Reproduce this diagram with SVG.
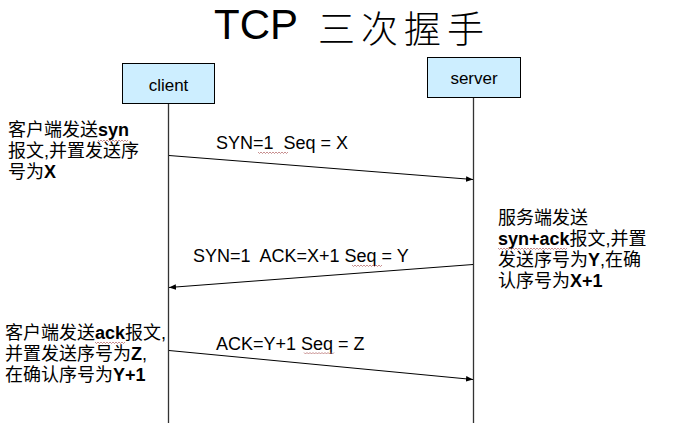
<svg xmlns="http://www.w3.org/2000/svg" width="680" height="423" viewBox="0 0 680 423">
<style>
.bg{fill:#ffffff}
.box{fill:#cdeeff;stroke:#000;stroke-width:1}
.life{stroke:#333;stroke-width:1.3;fill:none}
.msg{stroke:#000;stroke-width:1;fill:none}
.lbl{font-family:"Liberation Sans",Arial,sans-serif;font-size:18px;fill:#000}
.node{font-family:"Liberation Sans",Arial,sans-serif;font-size:17px;fill:#000;text-anchor:middle}
.note{font-family:"Liberation Sans","Noto Sans CJK SC",sans-serif;font-size:18px;fill:#000}
.b{font-weight:bold}
.title{font-family:"Liberation Sans",Arial,sans-serif;font-size:42px;fill:#000}
.tcjk{font-family:"Noto Sans CJK SC",sans-serif;font-size:37px;font-weight:300;letter-spacing:6px;fill:#000}
.wavy{stroke:#b06060;stroke-width:0.7;fill:none}
</style>
<defs>
<marker id="ah" viewBox="0 0 10 10" refX="10" refY="5" markerWidth="7" markerHeight="7" orient="auto" markerUnits="userSpaceOnUse">
<path d="M0,1 L10,5 L0,9 z" fill="#000"/>
</marker>
</defs>
<rect class="bg" x="0" y="0" width="680" height="423"/>
<g id="title">
<text class="title" x="214" y="39">TCP</text>
<text class="tcjk" x="318" y="43">三次握手</text>
</g>

<g id="client">
<line class="life" x1="168.5" y1="103" x2="168.5" y2="423"/>
<rect class="box" x="122.5" y="63.5" width="92" height="40"/>
<text class="node" x="168.5" y="91">client</text>
</g>
<g id="server">
<line class="life" x1="473.5" y1="98" x2="473.5" y2="423"/>
<rect class="box" x="427.5" y="57.5" width="93" height="40"/>
<text class="node" x="474" y="84">server</text>
</g>

<g id="connectors">
<line class="msg" x1="169" y1="155.5" x2="473" y2="179.5" marker-end="url(#ah)"/>
<line class="msg" x1="473" y1="264.5" x2="169" y2="287.5" marker-end="url(#ah)"/>
<line class="msg" x1="169" y1="350.5" x2="473" y2="379.5" marker-end="url(#ah)"/>
</g>

<g id="labels">
<text class="lbl" x="216" y="149" xml:space="preserve">SYN=1  Seq = X</text>
<text class="lbl" x="193" y="262" xml:space="preserve">SYN=1  ACK=X+1 Seq = Y</text>
<text class="lbl" x="216" y="349.5">ACK=Y+1 Seq = Z</text>
</g>

<g id="note-client-1">
<text class="note" x="8" y="136">客户端发送<tspan class="b">syn</tspan></text>
<text class="note" x="8" y="157">报文,并置发送序</text>
<text class="note" x="8" y="178">号为<tspan class="b">X</tspan></text>
</g>
<g id="note-server">
<text class="note" x="498" y="224">服务端发送</text>
<text class="note" x="498" y="245"><tspan class="b">syn+ack</tspan>报文,并置</text>
<text class="note" x="498" y="266">发送序号为<tspan class="b">Y</tspan>,在确</text>
<text class="note" x="498" y="287">认序号为<tspan class="b">X+1</tspan></text>
</g>
<g id="note-client-2">
<text class="note" x="5" y="339">客户端发送<tspan class="b">ack</tspan>报文,</text>
<text class="note" x="5" y="360">并置发送序号为<tspan class="b">Z</tspan>,</text>
<text class="note" x="5" y="381">在确认序号为<tspan class="b">Y+1</tspan></text>
</g>

<g id="spell-underlines">
<path class="wavy" d="M98,140 l1.5,1.5 l1.5,-1.5 l1.5,1.5 l1.5,-1.5 l1.5,1.5 l1.5,-1.5 l1.5,1.5 l1.5,-1.5 l1.5,1.5 l1.5,-1.5 l1.5,1.5 l1.5,-1.5 l1.5,1.5 l1.5,-1.5 l1.5,1.5 l1.5,-1.5 l1.5,1.5 l1.5,-1.5 l1.5,1.5 l1.5,-1.5"/>
<path class="wavy" d="M258,152 l1.5,1.5 l1.5,-1.5 l1.5,1.5 l1.5,-1.5 l1.5,1.5 l1.5,-1.5 l1.5,1.5 l1.5,-1.5 l1.5,1.5 l1.5,-1.5 l1.5,1.5 l1.5,-1.5 l1.5,1.5 l1.5,-1.5 l1.5,1.5 l1.5,-1.5 l1.5,1.5 l1.5,-1.5 l1.5,1.5 l1.5,-1.5"/>
<path class="wavy" d="M352,265 l1.5,1.5 l1.5,-1.5 l1.5,1.5 l1.5,-1.5 l1.5,1.5 l1.5,-1.5 l1.5,1.5 l1.5,-1.5 l1.5,1.5 l1.5,-1.5 l1.5,1.5 l1.5,-1.5 l1.5,1.5 l1.5,-1.5 l1.5,1.5 l1.5,-1.5 l1.5,1.5 l1.5,-1.5 l1.5,1.5 l1.5,-1.5"/>
<path class="wavy" d="M304,352.5 l1.5,1.5 l1.5,-1.5 l1.5,1.5 l1.5,-1.5 l1.5,1.5 l1.5,-1.5 l1.5,1.5 l1.5,-1.5 l1.5,1.5 l1.5,-1.5 l1.5,1.5 l1.5,-1.5 l1.5,1.5 l1.5,-1.5 l1.5,1.5 l1.5,-1.5 l1.5,1.5 l1.5,-1.5 l1.5,1.5 l1.5,-1.5"/>
<path class="wavy" d="M498,248 l1.5,1.5 l1.5,-1.5 l1.5,1.5 l1.5,-1.5 l1.5,1.5 l1.5,-1.5 l1.5,1.5 l1.5,-1.5 l1.5,1.5 l1.5,-1.5 l1.5,1.5 l1.5,-1.5 l1.5,1.5 l1.5,-1.5 l1.5,1.5 l1.5,-1.5 l1.5,1.5 l1.5,-1.5 l1.5,1.5 l1.5,-1.5 l1.5,1.5 l1.5,-1.5 l1.5,1.5 l1.5,-1.5 l1.5,1.5 l1.5,-1.5 l1.5,1.5 l1.5,-1.5 l1.5,1.5 l1.5,-1.5 l1.5,1.5 l1.5,-1.5 l1.5,1.5 l1.5,-1.5 l1.5,1.5 l1.5,-1.5 l1.5,1.5 l1.5,-1.5 l1.5,1.5 l1.5,-1.5 l1.5,1.5 l1.5,-1.5 l1.5,1.5 l1.5,-1.5 l1.5,1.5 l1.5,-1.5"/>
<path class="wavy" d="M95,342 l1.5,1.5 l1.5,-1.5 l1.5,1.5 l1.5,-1.5 l1.5,1.5 l1.5,-1.5 l1.5,1.5 l1.5,-1.5 l1.5,1.5 l1.5,-1.5 l1.5,1.5 l1.5,-1.5 l1.5,1.5 l1.5,-1.5 l1.5,1.5 l1.5,-1.5 l1.5,1.5 l1.5,-1.5 l1.5,1.5 l1.5,-1.5"/>
</g>
</svg>
